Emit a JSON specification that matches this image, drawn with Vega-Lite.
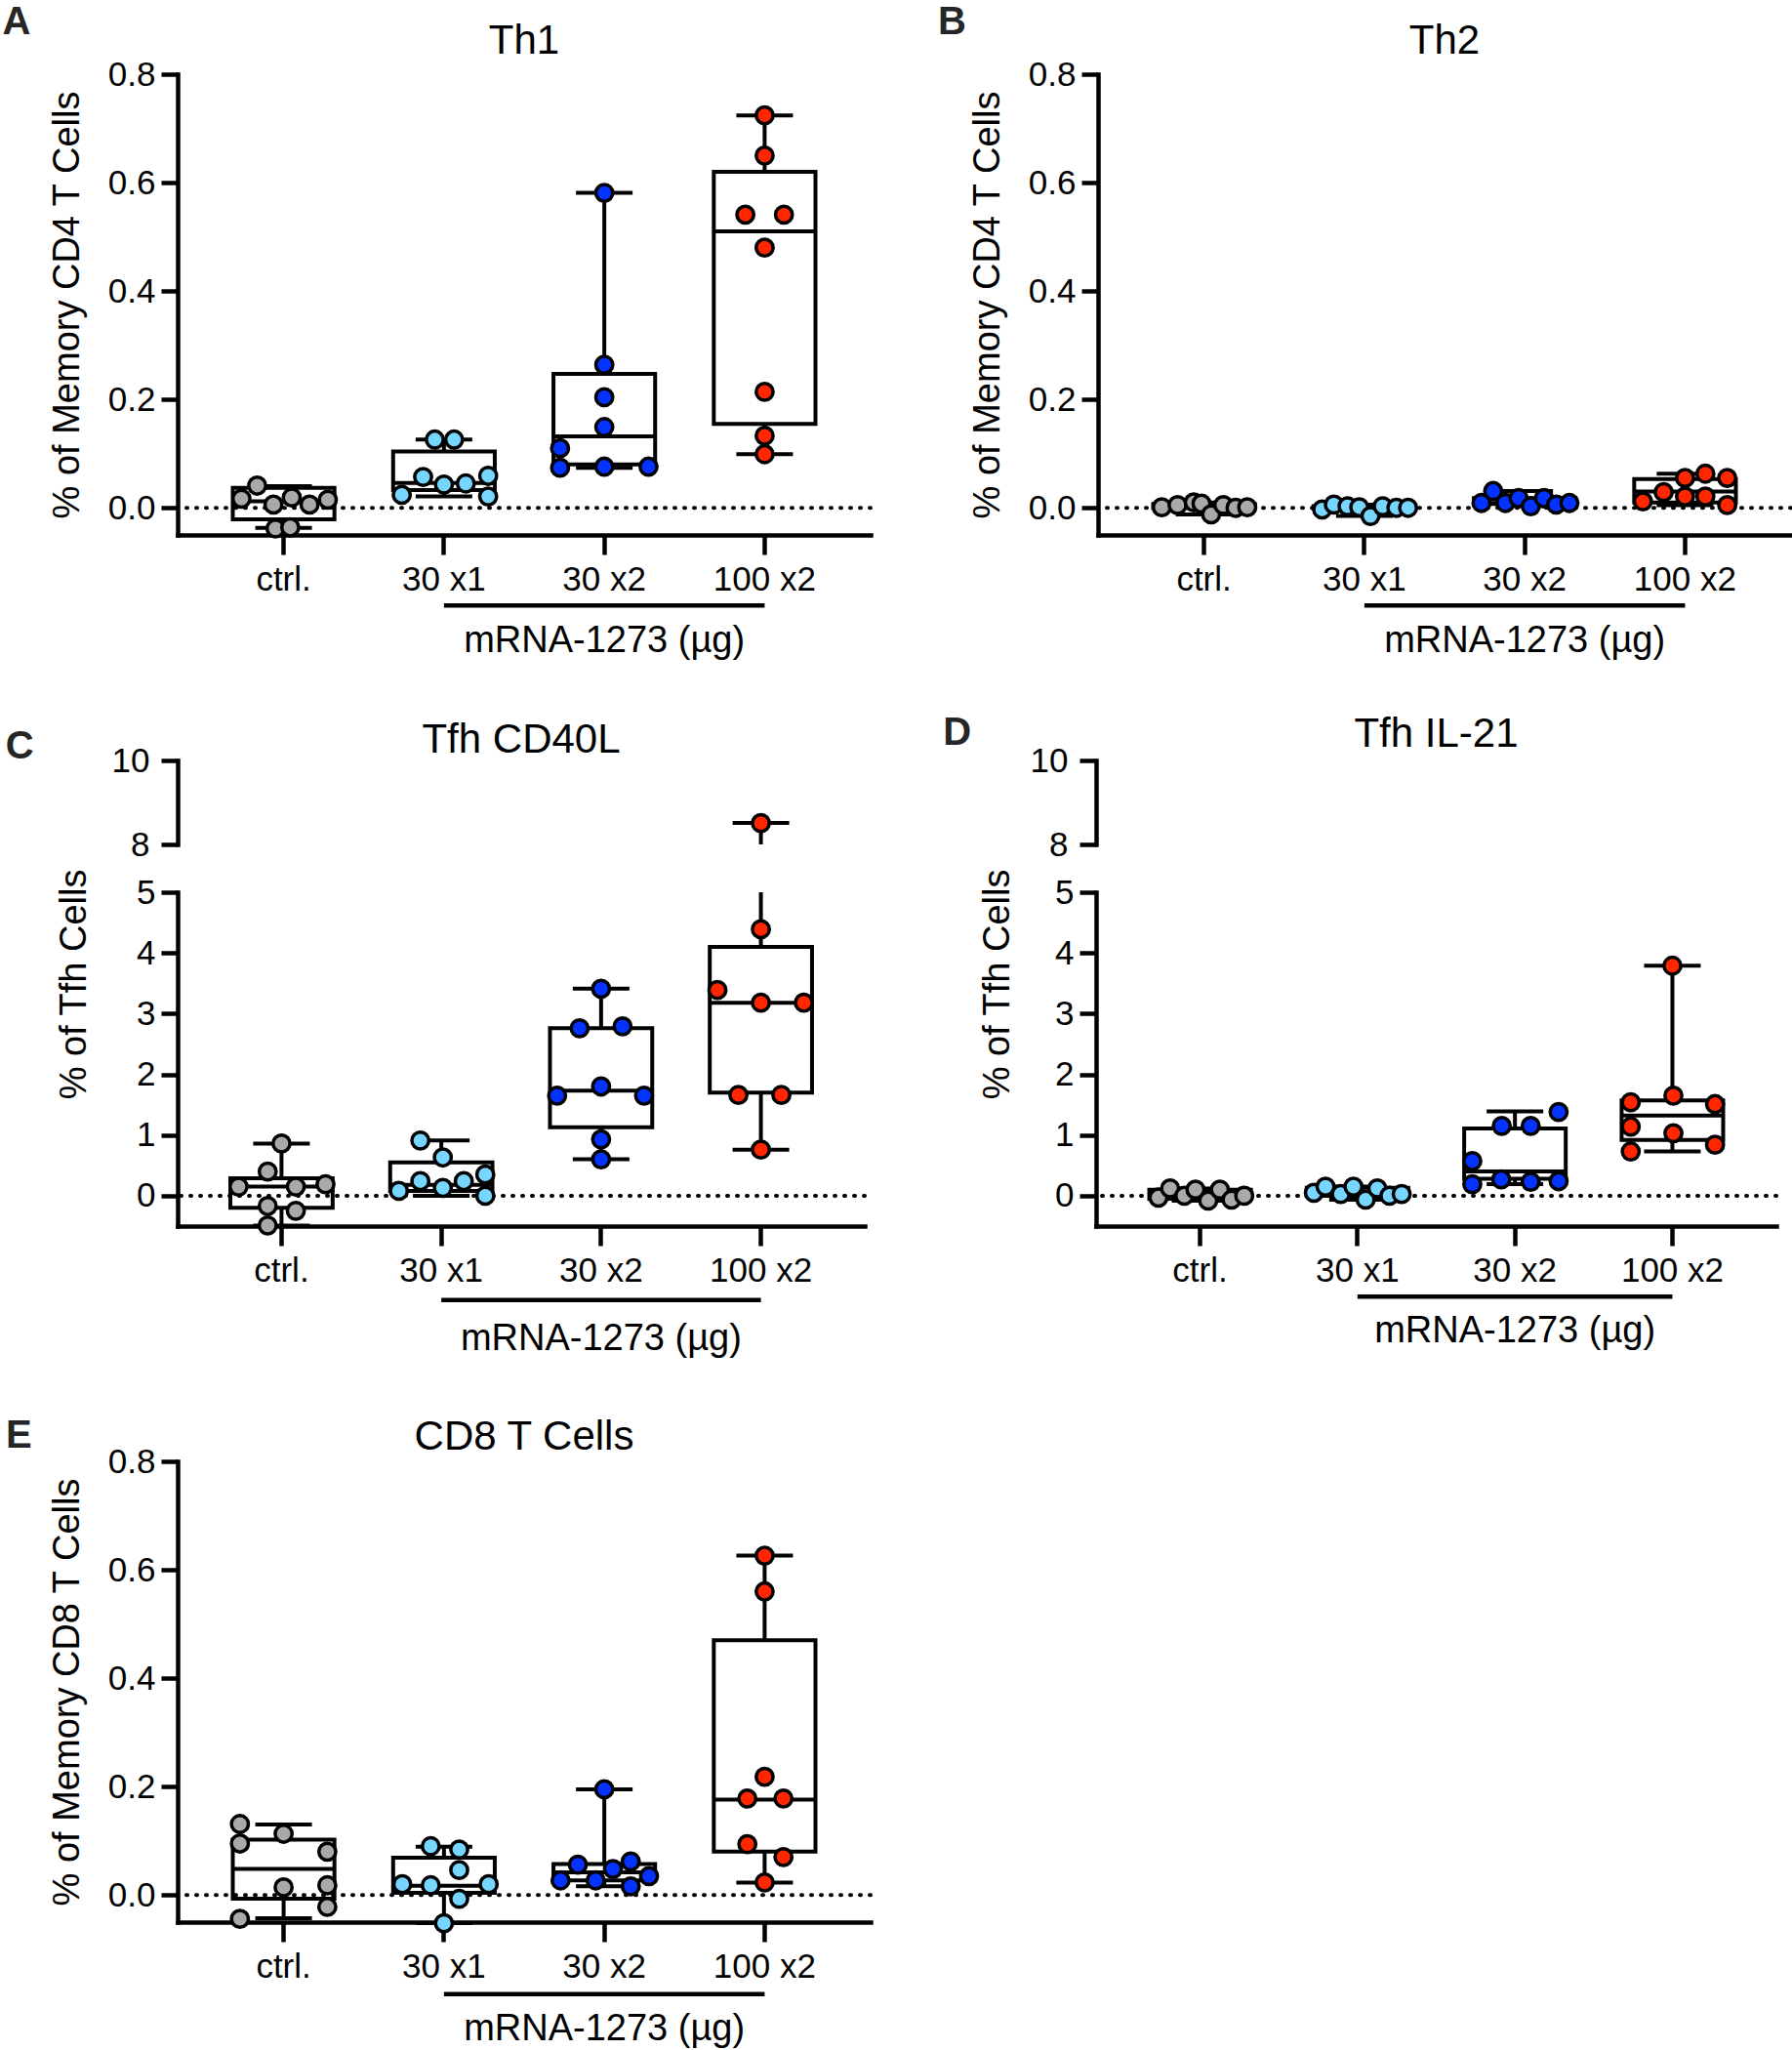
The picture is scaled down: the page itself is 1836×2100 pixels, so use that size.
{
"$schema": "https://vega.github.io/schema/vega-lite/v6.json",
"padding": {"left": 2, "top": 3, "right": 0, "bottom": 0},
"config": {
 "view": {"stroke": null},
 "font": "Liberation Sans",
 "axis": {"domainColor": "black", "domainWidth": 4.5, "domainCap": "square", "tickColor": "black", "tickWidth": 4.5, "tickSize": 17, "labelColor": "black", "labelFontSize": 35, "labelFont": "Liberation Sans", "titleFont": "Liberation Sans", "titleFontSize": 38, "titleFontWeight": "normal", "titleColor": "black", "grid": false, "labelPadding": 6, "labelFlush": false, "labelOverlap": false},
 "axisX": {"labelAngle": 0, "labelPadding": 8, "tickSize": 20},
 "title": {"font": "Liberation Sans", "fontSize": 42, "fontWeight": "normal", "color": "black"},
 "text": {"font": "Liberation Sans"},
 "tick": {"opacity": 1, "color": "black", "thickness": 4},
 "rule": {"color": "black", "strokeWidth": 4},
 "circle": {"opacity": 1, "size": 300, "stroke": "black", "strokeWidth": 3.5}
},
"datasets": {
 "stats": [
  {"panel":"A","group":"ctrl.","min":-0.037,"q1":-0.021,"median":0.012,"q3":0.037,"max":0.04},
  {"panel":"A","group":"30 x1","min":0.021,"q1":0.033,"median":0.046,"q3":0.104,"max":0.126},
  {"panel":"A","group":"30 x2","min":0.074,"q1":0.08,"median":0.132,"q3":0.247,"max":0.581},
  {"panel":"A","group":"100 x2","min":0.099,"q1":0.155,"median":0.51,"q3":0.62,"max":0.724},
  {"panel":"B","group":"ctrl.","min":-0.012,"q1":0.0,"median":0.003,"q3":0.007,"max":0.01},
  {"panel":"B","group":"30 x1","min":-0.015,"q1":-0.001,"median":0.001,"q3":0.003,"max":0.006},
  {"panel":"B","group":"30 x2","min":0.003,"q1":0.007,"median":0.009,"q3":0.018,"max":0.031},
  {"panel":"B","group":"100 x2","min":0.005,"q1":0.01,"median":0.03,"q3":0.053,"max":0.063},
  {"panel":"C","group":"ctrl.","min":-0.49,"q1":-0.2,"median":0.15,"q3":0.29,"max":0.86},
  {"panel":"C","group":"30 x1","min":0.0,"q1":0.08,"median":0.18,"q3":0.55,"max":0.91},
  {"panel":"C","group":"30 x2","min":0.6,"q1":1.13,"median":1.73,"q3":2.76,"max":3.41},
  {"panel":"C","group":"100 x2","min":0.76,"q1":1.7,"median":3.18,"q3":4.1,"max":8.51},
  {"panel":"D","group":"ctrl.","min":-0.08,"q1":-0.05,"median":0.0,"q3":0.1,"max":0.12},
  {"panel":"D","group":"30 x1","min":-0.065,"q1":0.0,"median":0.04,"q3":0.13,"max":0.15},
  {"panel":"D","group":"30 x2","min":0.19,"q1":0.28,"median":0.4,"q3":1.11,"max":1.39},
  {"panel":"D","group":"100 x2","min":0.73,"q1":0.92,"median":1.32,"q3":1.57,"max":3.79},
  {"panel":"E","group":"ctrl.","min":-0.043,"q1":-0.007,"median":0.048,"q3":0.102,"max":0.13},
  {"panel":"E","group":"30 x1","min":-0.052,"q1":0.004,"median":0.017,"q3":0.069,"max":0.089},
  {"panel":"E","group":"30 x2","min":0.016,"q1":0.027,"median":0.042,"q3":0.057,"max":0.195},
  {"panel":"E","group":"100 x2","min":0.023,"q1":0.08,"median":0.176,"q3":0.47,"max":0.626}
 ],
 "points": [
  {"panel":"A","group":"ctrl.","jitter":-0.52,"value":0.041},{"panel":"A","group":"ctrl.","jitter":-0.83,"value":0.017},{"panel":"A","group":"ctrl.","jitter":-0.2,"value":0.006},{"panel":"A","group":"ctrl.","jitter":0.16,"value":0.019},{"panel":"A","group":"ctrl.","jitter":0.51,"value":0.006},{"panel":"A","group":"ctrl.","jitter":0.87,"value":0.015},{"panel":"A","group":"ctrl.","jitter":-0.16,"value":-0.038},{"panel":"A","group":"ctrl.","jitter":0.13,"value":-0.036},
  {"panel":"A","group":"30 x1","jitter":-0.18,"value":0.126},{"panel":"A","group":"30 x1","jitter":0.2,"value":0.126},{"panel":"A","group":"30 x1","jitter":-0.41,"value":0.057},{"panel":"A","group":"30 x1","jitter":0,"value":0.043},{"panel":"A","group":"30 x1","jitter":0.43,"value":0.045},{"panel":"A","group":"30 x1","jitter":0.87,"value":0.059},{"panel":"A","group":"30 x1","jitter":-0.83,"value":0.024},{"panel":"A","group":"30 x1","jitter":0.87,"value":0.021},
  {"panel":"A","group":"30 x2","jitter":0,"value":0.581},{"panel":"A","group":"30 x2","jitter":0,"value":0.264},{"panel":"A","group":"30 x2","jitter":0,"value":0.204},{"panel":"A","group":"30 x2","jitter":0,"value":0.149},{"panel":"A","group":"30 x2","jitter":-0.87,"value":0.11},{"panel":"A","group":"30 x2","jitter":-0.87,"value":0.074},{"panel":"A","group":"30 x2","jitter":0,"value":0.076},{"panel":"A","group":"30 x2","jitter":0.87,"value":0.076},
  {"panel":"A","group":"100 x2","jitter":0,"value":0.724},{"panel":"A","group":"100 x2","jitter":0,"value":0.65},{"panel":"A","group":"100 x2","jitter":-0.38,"value":0.541},{"panel":"A","group":"100 x2","jitter":0.38,"value":0.541},{"panel":"A","group":"100 x2","jitter":0,"value":0.48},{"panel":"A","group":"100 x2","jitter":0,"value":0.214},{"panel":"A","group":"100 x2","jitter":0,"value":0.133},{"panel":"A","group":"100 x2","jitter":0,"value":0.099},
  {"panel":"B","group":"ctrl.","jitter":-0.83,"value":0.001},{"panel":"B","group":"ctrl.","jitter":-0.52,"value":0.005},{"panel":"B","group":"ctrl.","jitter":-0.2,"value":0.01},{"panel":"B","group":"ctrl.","jitter":-0.05,"value":0.008},{"panel":"B","group":"ctrl.","jitter":0.14,"value":-0.012},{"panel":"B","group":"ctrl.","jitter":0.38,"value":0.005},{"panel":"B","group":"ctrl.","jitter":0.62,"value":0.0},{"panel":"B","group":"ctrl.","jitter":0.85,"value":0.001},
  {"panel":"B","group":"30 x1","jitter":-0.83,"value":-0.003},{"panel":"B","group":"30 x1","jitter":-0.6,"value":0.006},{"panel":"B","group":"30 x1","jitter":-0.33,"value":0.003},{"panel":"B","group":"30 x1","jitter":-0.1,"value":0.001},{"panel":"B","group":"30 x1","jitter":0.12,"value":-0.015},{"panel":"B","group":"30 x1","jitter":0.36,"value":0.003},{"panel":"B","group":"30 x1","jitter":0.63,"value":0.0},{"panel":"B","group":"30 x1","jitter":0.86,"value":0.0},
  {"panel":"B","group":"30 x2","jitter":-0.85,"value":0.009},{"panel":"B","group":"30 x2","jitter":-0.62,"value":0.031},{"panel":"B","group":"30 x2","jitter":-0.38,"value":0.009},{"panel":"B","group":"30 x2","jitter":-0.12,"value":0.018},{"panel":"B","group":"30 x2","jitter":0.12,"value":0.003},{"panel":"B","group":"30 x2","jitter":0.38,"value":0.018},{"panel":"B","group":"30 x2","jitter":0.62,"value":0.006},{"panel":"B","group":"30 x2","jitter":0.88,"value":0.009},
  {"panel":"B","group":"100 x2","jitter":-0.83,"value":0.012},{"panel":"B","group":"100 x2","jitter":-0.42,"value":0.029},{"panel":"B","group":"100 x2","jitter":0,"value":0.055},{"panel":"B","group":"100 x2","jitter":0,"value":0.021},{"panel":"B","group":"100 x2","jitter":0.4,"value":0.063},{"panel":"B","group":"100 x2","jitter":0.4,"value":0.021},{"panel":"B","group":"100 x2","jitter":0.83,"value":0.055},{"panel":"B","group":"100 x2","jitter":0.83,"value":0.005},
  {"panel":"C","group":"ctrl.","jitter":0,"value":0.86},{"panel":"C","group":"ctrl.","jitter":-0.27,"value":0.4},{"panel":"C","group":"ctrl.","jitter":-0.84,"value":0.15},{"panel":"C","group":"ctrl.","jitter":0.28,"value":0.15},{"panel":"C","group":"ctrl.","jitter":0.86,"value":0.19},{"panel":"C","group":"ctrl.","jitter":-0.27,"value":-0.17},{"panel":"C","group":"ctrl.","jitter":0.28,"value":-0.25},{"panel":"C","group":"ctrl.","jitter":-0.27,"value":-0.49},
  {"panel":"C","group":"30 x1","jitter":-0.41,"value":0.91},{"panel":"C","group":"30 x1","jitter":0.03,"value":0.63},{"panel":"C","group":"30 x1","jitter":-0.41,"value":0.24},{"panel":"C","group":"30 x1","jitter":0.03,"value":0.13},{"panel":"C","group":"30 x1","jitter":0.44,"value":0.24},{"panel":"C","group":"30 x1","jitter":0.86,"value":0.35},{"panel":"C","group":"30 x1","jitter":-0.83,"value":0.08},{"panel":"C","group":"30 x1","jitter":0.86,"value":0.0},
  {"panel":"C","group":"30 x2","jitter":0,"value":3.41},{"panel":"C","group":"30 x2","jitter":-0.42,"value":2.76},{"panel":"C","group":"30 x2","jitter":0.42,"value":2.79},{"panel":"C","group":"30 x2","jitter":-0.86,"value":1.65},{"panel":"C","group":"30 x2","jitter":0,"value":1.8},{"panel":"C","group":"30 x2","jitter":0.84,"value":1.65},{"panel":"C","group":"30 x2","jitter":0,"value":0.93},{"panel":"C","group":"30 x2","jitter":0,"value":0.6},
  {"panel":"C","group":"100 x2","jitter":0,"value":8.51},{"panel":"C","group":"100 x2","jitter":0,"value":4.39},{"panel":"C","group":"100 x2","jitter":-0.85,"value":3.39},{"panel":"C","group":"100 x2","jitter":0,"value":3.18},{"panel":"C","group":"100 x2","jitter":0.84,"value":3.18},{"panel":"C","group":"100 x2","jitter":-0.44,"value":1.66},{"panel":"C","group":"100 x2","jitter":0.4,"value":1.66},{"panel":"C","group":"100 x2","jitter":0,"value":0.76},
  {"panel":"D","group":"ctrl.","jitter":-0.82,"value":-0.03},{"panel":"D","group":"ctrl.","jitter":-0.59,"value":0.12},{"panel":"D","group":"ctrl.","jitter":-0.31,"value":0.0},{"panel":"D","group":"ctrl.","jitter":-0.09,"value":0.1},{"panel":"D","group":"ctrl.","jitter":0.16,"value":-0.08},{"panel":"D","group":"ctrl.","jitter":0.39,"value":0.1},{"panel":"D","group":"ctrl.","jitter":0.62,"value":-0.065},{"panel":"D","group":"ctrl.","jitter":0.87,"value":0.0},
  {"panel":"D","group":"30 x1","jitter":-0.86,"value":0.05},{"panel":"D","group":"30 x1","jitter":-0.63,"value":0.15},{"panel":"D","group":"30 x1","jitter":-0.33,"value":0.03},{"panel":"D","group":"30 x1","jitter":-0.08,"value":0.15},{"panel":"D","group":"30 x1","jitter":0.16,"value":-0.065},{"panel":"D","group":"30 x1","jitter":0.39,"value":0.12},{"panel":"D","group":"30 x1","jitter":0.63,"value":0.0},{"panel":"D","group":"30 x1","jitter":0.87,"value":0.03},
  {"panel":"D","group":"30 x2","jitter":0.86,"value":1.38},{"panel":"D","group":"30 x2","jitter":-0.26,"value":1.15},{"panel":"D","group":"30 x2","jitter":0.31,"value":1.15},{"panel":"D","group":"30 x2","jitter":-0.84,"value":0.57},{"panel":"D","group":"30 x2","jitter":-0.84,"value":0.19},{"panel":"D","group":"30 x2","jitter":-0.27,"value":0.27},{"panel":"D","group":"30 x2","jitter":0.31,"value":0.23},{"panel":"D","group":"30 x2","jitter":0.86,"value":0.24},
  {"panel":"D","group":"100 x2","jitter":0,"value":3.79},{"panel":"D","group":"100 x2","jitter":-0.82,"value":1.54},{"panel":"D","group":"100 x2","jitter":0.02,"value":1.65},{"panel":"D","group":"100 x2","jitter":0.84,"value":1.51},{"panel":"D","group":"100 x2","jitter":-0.82,"value":1.14},{"panel":"D","group":"100 x2","jitter":0.02,"value":1.03},{"panel":"D","group":"100 x2","jitter":0.84,"value":0.84},{"panel":"D","group":"100 x2","jitter":-0.82,"value":0.73},
  {"panel":"E","group":"ctrl.","jitter":-0.86,"value":0.131},{"panel":"E","group":"ctrl.","jitter":-0.86,"value":0.095},{"panel":"E","group":"ctrl.","jitter":0,"value":0.113},{"panel":"E","group":"ctrl.","jitter":0.86,"value":0.08},{"panel":"E","group":"ctrl.","jitter":0,"value":0.014},{"panel":"E","group":"ctrl.","jitter":0.86,"value":0.018},{"panel":"E","group":"ctrl.","jitter":0.86,"value":-0.022},{"panel":"E","group":"ctrl.","jitter":-0.86,"value":-0.044},
  {"panel":"E","group":"30 x1","jitter":-0.26,"value":0.09},{"panel":"E","group":"30 x1","jitter":0.3,"value":0.084},{"panel":"E","group":"30 x1","jitter":0.3,"value":0.046},{"panel":"E","group":"30 x1","jitter":-0.82,"value":0.02},{"panel":"E","group":"30 x1","jitter":-0.26,"value":0.018},{"panel":"E","group":"30 x1","jitter":0.88,"value":0.02},{"panel":"E","group":"30 x1","jitter":0.3,"value":-0.007},{"panel":"E","group":"30 x1","jitter":0,"value":-0.052},
  {"panel":"E","group":"30 x2","jitter":0,"value":0.195},{"panel":"E","group":"30 x2","jitter":-0.52,"value":0.056},{"panel":"E","group":"30 x2","jitter":0.17,"value":0.048},{"panel":"E","group":"30 x2","jitter":0.52,"value":0.062},{"panel":"E","group":"30 x2","jitter":0.88,"value":0.035},{"panel":"E","group":"30 x2","jitter":-0.86,"value":0.027},{"panel":"E","group":"30 x2","jitter":-0.17,"value":0.027},{"panel":"E","group":"30 x2","jitter":0.52,"value":0.016},
  {"panel":"E","group":"100 x2","jitter":0,"value":0.626},{"panel":"E","group":"100 x2","jitter":0,"value":0.56},{"panel":"E","group":"100 x2","jitter":0,"value":0.218},{"panel":"E","group":"100 x2","jitter":-0.34,"value":0.178},{"panel":"E","group":"100 x2","jitter":0.37,"value":0.178},{"panel":"E","group":"100 x2","jitter":-0.34,"value":0.094},{"panel":"E","group":"100 x2","jitter":0.37,"value":0.07},{"panel":"E","group":"100 x2","jitter":0,"value":0.023}
 ]
},
"spacing": 60,
"resolve": {"scale": {"x": "independent", "y": "independent", "xOffset": "independent", "fill": "independent"}},
"vconcat": [
{
 "spacing": 55,
 "resolve": {"scale": {"x": "independent", "y": "independent", "xOffset": "independent", "fill": "independent"}},
 "vconcat": [
 {
  "spacing": 67,
  "resolve": {"scale": {"x": "independent", "y": "independent", "xOffset": "independent", "fill": "independent"}},
  "hconcat": [
  {
   "title": {"text": "A", "orient": "left", "anchor": "end", "angle": 0, "align": "right", "baseline": "top", "fontSize": 40, "fontWeight": "bold", "color": "#262626", "offset": -10, "dy": -18, "frame": "bounds"},
   "resolve": {"scale": {"x": "independent", "y": "independent", "xOffset": "independent", "fill": "independent"}},
   "vconcat": [
   {
    "title": {"text": "Th1", "frame": "group", "offset": -38, "baseline": "alphabetic"},
    "width": 710, "height": 472,
    "resolve": {"scale": {"xOffset": "independent"}},
    "layer": [
     {"data": {"name": "stats"}, "transform": [{"filter": "datum.panel === 'A'"}], "mark": {"type": "bar", "fill": "transparent", "stroke": "black", "strokeWidth": 4},
      "encoding": {"x": {"field": "group", "type": "nominal", "sort": null, "scale": {"domain": ["ctrl.", "30 x1", "30 x2", "100 x2"], "paddingInner": 0.366, "paddingOuter": 0.344}, "axis": {"title": null}},
       "y": {"field": "q1", "type": "quantitative", "scale": {"domain": [-0.05, 0.8], "nice": false, "zero": false}, "axis": {"title": "% of Memory CD4 T Cells", "values": [0, 0.2, 0.4, 0.6, 0.8], "format": ".1f", "titlePadding": 22}}, "y2": {"field": "q3"}}},
     {"data": {"name": "stats"}, "transform": [{"filter": "datum.panel === 'A'"}], "mark": {"type": "tick", "size": 104}, "encoding": {"x": {"field": "group", "type": "nominal"}, "y": {"field": "median", "type": "quantitative"}}},
     {"data": {"name": "stats"}, "transform": [{"filter": "datum.panel === 'A'"}], "mark": {"type": "rule"}, "encoding": {"x": {"field": "group", "type": "nominal"}, "y": {"field": "min", "type": "quantitative"}, "y2": {"field": "q1"}}},
     {"data": {"name": "stats"}, "transform": [{"filter": "datum.panel === 'A'"}], "mark": {"type": "rule"}, "encoding": {"x": {"field": "group", "type": "nominal"}, "y": {"field": "q3", "type": "quantitative"}, "y2": {"field": "max"}}},
     {"data": {"name": "stats"}, "transform": [{"filter": "datum.panel === 'A'"}], "mark": {"type": "tick", "size": 58}, "encoding": {"x": {"field": "group", "type": "nominal"}, "y": {"field": "min", "type": "quantitative"}}},
     {"data": {"name": "stats"}, "transform": [{"filter": "datum.panel === 'A'"}], "mark": {"type": "tick", "size": 58}, "encoding": {"x": {"field": "group", "type": "nominal"}, "y": {"field": "max", "type": "quantitative"}}},
     {"data": {"values": [{"zero": 0}]}, "mark": {"type": "rule", "strokeWidth": 4, "strokeDash": [1, 9], "strokeCap": "round"}, "encoding": {"y": {"field": "zero", "type": "quantitative"}}},
     {"data": {"values": [{"label": "mRNA-1273 (µg)"}]}, "mark": {"type": "rule", "strokeWidth": 4.5}, "encoding": {"x": {"datum": "30 x1"}, "x2": {"datum": "100 x2"}, "y": {"datum": -0.18}}},
     {"data": {"values": [{"label": "mRNA-1273 (µg)"}]}, "mark": {"type": "text", "fontSize": 38, "baseline": "alphabetic", "color": "black"}, "encoding": {"x": {"datum": "30 x2"}, "y": {"datum": -0.266}, "text": {"field": "label"}}},
     {"data": {"name": "points"}, "transform": [{"filter": "datum.panel === 'A'"}], "mark": {"type": "circle"},
      "encoding": {"x": {"field": "group", "type": "nominal"}, "xOffset": {"field": "jitter", "type": "quantitative", "scale": {"domain": [-1, 1]}}, "y": {"field": "value", "type": "quantitative"},
       "fill": {"field": "group", "type": "nominal", "scale": {"domain": ["ctrl.", "30 x1", "30 x2", "100 x2"], "range": ["#A9A9A9", "#76D6FF", "#0433FF", "#FF2600"]}, "legend": null}}}
    ]
   }
   ]
  },
  {
   "title": {"text": "B", "orient": "left", "anchor": "end", "angle": 0, "align": "right", "baseline": "top", "fontSize": 40, "fontWeight": "bold", "color": "#262626", "offset": -25.5, "dy": -18, "frame": "bounds"},
   "resolve": {"scale": {"x": "independent", "y": "independent", "xOffset": "independent", "fill": "independent"}},
   "vconcat": [
   {
    "title": {"text": "Th2", "frame": "group", "offset": -38, "baseline": "alphabetic"},
    "width": 710, "height": 472,
    "resolve": {"scale": {"xOffset": "independent"}},
    "layer": [
     {"data": {"name": "stats"}, "transform": [{"filter": "datum.panel === 'B'"}], "mark": {"type": "bar", "fill": "transparent", "stroke": "black", "strokeWidth": 4},
      "encoding": {"x": {"field": "group", "type": "nominal", "sort": null, "scale": {"domain": ["ctrl.", "30 x1", "30 x2", "100 x2"], "paddingInner": 0.366, "paddingOuter": 0.344}, "axis": {"title": null}},
       "y": {"field": "q1", "type": "quantitative", "scale": {"domain": [-0.05, 0.8], "nice": false, "zero": false}, "axis": {"title": "% of Memory CD4 T Cells", "values": [0, 0.2, 0.4, 0.6, 0.8], "format": ".1f", "titlePadding": 22}}, "y2": {"field": "q3"}}},
     {"data": {"name": "stats"}, "transform": [{"filter": "datum.panel === 'B'"}], "mark": {"type": "tick", "size": 104}, "encoding": {"x": {"field": "group", "type": "nominal"}, "y": {"field": "median", "type": "quantitative"}}},
     {"data": {"name": "stats"}, "transform": [{"filter": "datum.panel === 'B'"}], "mark": {"type": "rule"}, "encoding": {"x": {"field": "group", "type": "nominal"}, "y": {"field": "min", "type": "quantitative"}, "y2": {"field": "q1"}}},
     {"data": {"name": "stats"}, "transform": [{"filter": "datum.panel === 'B'"}], "mark": {"type": "rule"}, "encoding": {"x": {"field": "group", "type": "nominal"}, "y": {"field": "q3", "type": "quantitative"}, "y2": {"field": "max"}}},
     {"data": {"name": "stats"}, "transform": [{"filter": "datum.panel === 'B'"}], "mark": {"type": "tick", "size": 58}, "encoding": {"x": {"field": "group", "type": "nominal"}, "y": {"field": "min", "type": "quantitative"}}},
     {"data": {"name": "stats"}, "transform": [{"filter": "datum.panel === 'B'"}], "mark": {"type": "tick", "size": 58}, "encoding": {"x": {"field": "group", "type": "nominal"}, "y": {"field": "max", "type": "quantitative"}}},
     {"data": {"values": [{"zero": 0}]}, "mark": {"type": "rule", "strokeWidth": 4, "strokeDash": [1, 9], "strokeCap": "round"}, "encoding": {"y": {"field": "zero", "type": "quantitative"}}},
     {"data": {"values": [{"label": "mRNA-1273 (µg)"}]}, "mark": {"type": "rule", "strokeWidth": 4.5}, "encoding": {"x": {"datum": "30 x1"}, "x2": {"datum": "100 x2"}, "y": {"datum": -0.18}}},
     {"data": {"values": [{"label": "mRNA-1273 (µg)"}]}, "mark": {"type": "text", "fontSize": 38, "baseline": "alphabetic", "color": "black"}, "encoding": {"x": {"datum": "30 x2"}, "y": {"datum": -0.266}, "text": {"field": "label"}}},
     {"data": {"name": "points"}, "transform": [{"filter": "datum.panel === 'B'"}], "mark": {"type": "circle"},
      "encoding": {"x": {"field": "group", "type": "nominal"}, "xOffset": {"field": "jitter", "type": "quantitative", "scale": {"domain": [-1, 1]}}, "y": {"field": "value", "type": "quantitative"},
       "fill": {"field": "group", "type": "nominal", "scale": {"domain": ["ctrl.", "30 x1", "30 x2", "100 x2"], "range": ["#A9A9A9", "#76D6FF", "#0433FF", "#FF2600"]}, "legend": null}}}
    ]
   }
   ]
  }
  ]
 },
 {
  "spacing": 78,
  "resolve": {"scale": {"x": "independent", "y": "independent", "xOffset": "independent", "fill": "independent"}},
  "hconcat": [
  {
   "title": {"text": "C", "orient": "left", "anchor": "end", "angle": 0, "align": "right", "baseline": "top", "fontSize": 40, "fontWeight": "bold", "color": "#262626", "offset": -6, "dy": 8, "frame": "bounds"},
   "spacing": 6,
   "resolve": {"scale": {"x": "independent", "y": "independent", "xOffset": "independent", "fill": "independent"}},
   "vconcat": [
   {
    "title": {"text": "Tfh CD40L", "frame": "group", "offset": -51, "baseline": "alphabetic"},
    "width": 704, "height": 86,
    "resolve": {"scale": {"xOffset": "independent"}},
    "encoding": {"x": {"field": "group", "type": "nominal", "sort": null, "scale": {"domain": ["ctrl.", "30 x1", "30 x2", "100 x2"], "paddingInner": 0.36, "paddingOuter": 0.33}, "axis": null}},
    "layer": [
     {"data": {"name": "stats"}, "transform": [{"filter": "datum.panel === 'C'"}], "mark": {"type": "rule", "clip": true},
      "encoding": {"y": {"field": "q3", "type": "quantitative", "scale": {"domain": [8, 10], "nice": false, "zero": false}, "axis": {"title": null, "values": [8, 10], "format": "d", "labelPadding": 12}}, "y2": {"field": "max"}}},
     {"data": {"name": "stats"}, "transform": [{"filter": "datum.panel === 'C'"}], "mark": {"type": "tick", "size": 58, "clip": true}, "encoding": {"y": {"field": "max", "type": "quantitative"}}},
     {"data": {"name": "points"}, "transform": [{"filter": "datum.panel === 'C' && datum.value >= 8"}], "mark": {"type": "circle"},
      "encoding": {"xOffset": {"field": "jitter", "type": "quantitative", "scale": {"domain": [-1, 1]}}, "y": {"field": "value", "type": "quantitative"},
       "fill": {"field": "group", "type": "nominal", "scale": {"domain": ["ctrl.", "30 x1", "30 x2", "100 x2"], "range": ["#A9A9A9", "#76D6FF", "#0433FF", "#FF2600"]}, "legend": null}}}
    ]
   },
   {
    "width": 704, "height": 342,
    "resolve": {"scale": {"xOffset": "independent"}},
    "layer": [
     {"data": {"name": "stats"}, "transform": [{"filter": "datum.panel === 'C'"}], "mark": {"type": "bar", "fill": "transparent", "stroke": "black", "strokeWidth": 4, "clip": true},
      "encoding": {"x": {"field": "group", "type": "nominal", "sort": null, "scale": {"domain": ["ctrl.", "30 x1", "30 x2", "100 x2"], "paddingInner": 0.36, "paddingOuter": 0.33}, "axis": {"title": null}},
       "y": {"field": "q1", "type": "quantitative", "scale": {"domain": [-0.5, 5], "nice": false, "zero": false}, "axis": {"title": "% of Tfh Cells", "values": [0, 1, 2, 3, 4, 5], "format": "d", "titlePadding": 44, "titleAnchor": "end", "titleY": -24}}, "y2": {"field": "q3"}}},
     {"data": {"name": "stats"}, "transform": [{"filter": "datum.panel === 'C'"}], "mark": {"type": "tick", "size": 104, "clip": true}, "encoding": {"x": {"field": "group", "type": "nominal"}, "y": {"field": "median", "type": "quantitative"}}},
     {"data": {"name": "stats"}, "transform": [{"filter": "datum.panel === 'C'"}], "mark": {"type": "rule", "clip": true}, "encoding": {"x": {"field": "group", "type": "nominal"}, "y": {"field": "min", "type": "quantitative"}, "y2": {"field": "q1"}}},
     {"data": {"name": "stats"}, "transform": [{"filter": "datum.panel === 'C'"}], "mark": {"type": "rule", "clip": true}, "encoding": {"x": {"field": "group", "type": "nominal"}, "y": {"field": "q3", "type": "quantitative"}, "y2": {"field": "max"}}},
     {"data": {"name": "stats"}, "transform": [{"filter": "datum.panel === 'C'"}], "mark": {"type": "tick", "size": 58}, "encoding": {"x": {"field": "group", "type": "nominal"}, "y": {"field": "min", "type": "quantitative"}}},
     {"data": {"name": "stats"}, "transform": [{"filter": "datum.panel === 'C'"}], "mark": {"type": "tick", "size": 58, "clip": true}, "encoding": {"x": {"field": "group", "type": "nominal"}, "y": {"field": "max", "type": "quantitative"}}},
     {"data": {"values": [{"zero": 0}]}, "mark": {"type": "rule", "strokeWidth": 4, "strokeDash": [1, 9], "strokeCap": "round"}, "encoding": {"y": {"field": "zero", "type": "quantitative"}}},
     {"data": {"values": [{"label": "mRNA-1273 (µg)"}]}, "mark": {"type": "rule", "strokeWidth": 4.5}, "encoding": {"x": {"datum": "30 x1"}, "x2": {"datum": "100 x2"}, "y": {"datum": -1.72}}},
     {"data": {"values": [{"label": "mRNA-1273 (µg)"}]}, "mark": {"type": "text", "fontSize": 38, "baseline": "alphabetic", "color": "black"}, "encoding": {"x": {"datum": "30 x2"}, "y": {"datum": -2.54}, "text": {"field": "label"}}},
     {"data": {"name": "points"}, "transform": [{"filter": "datum.panel === 'C' && datum.value < 8"}], "mark": {"type": "circle"},
      "encoding": {"x": {"field": "group", "type": "nominal"}, "xOffset": {"field": "jitter", "type": "quantitative", "scale": {"domain": [-1, 1]}}, "y": {"field": "value", "type": "quantitative"},
       "fill": {"field": "group", "type": "nominal", "scale": {"domain": ["ctrl.", "30 x1", "30 x2", "100 x2"], "range": ["#A9A9A9", "#76D6FF", "#0433FF", "#FF2600"]}, "legend": null}}}
    ]
   }
   ]
  },
  {
   "title": {"text": "D", "orient": "left", "anchor": "end", "angle": 0, "align": "right", "baseline": "top", "fontSize": 40, "fontWeight": "bold", "color": "#262626", "offset": -20.5, "frame": "bounds"},
   "spacing": 6,
   "resolve": {"scale": {"x": "independent", "y": "independent", "xOffset": "independent", "fill": "independent"}},
   "vconcat": [
   {
    "title": {"text": "Tfh IL-21", "frame": "group", "offset": -45, "baseline": "alphabetic"},
    "width": 697, "height": 86,
    "encoding": {"x": {"field": "group", "type": "nominal", "sort": null, "scale": {"domain": ["ctrl.", "30 x1", "30 x2", "100 x2"], "paddingInner": 0.355, "paddingOuter": 0.338}, "axis": null}},
    "layer": [
     {"data": {"name": "stats"}, "transform": [{"filter": "datum.panel === 'D'"}], "mark": {"type": "rule", "clip": true},
      "encoding": {"y": {"field": "q3", "type": "quantitative", "scale": {"domain": [8, 10], "nice": false, "zero": false}, "axis": {"title": null, "values": [8, 10], "format": "d", "labelPadding": 12}}, "y2": {"field": "max"}}},
     {"data": {"name": "stats"}, "transform": [{"filter": "datum.panel === 'D'"}], "mark": {"type": "tick", "size": 58, "clip": true}, "encoding": {"y": {"field": "max", "type": "quantitative"}}}
    ]
   },
   {
    "width": 697, "height": 342,
    "resolve": {"scale": {"xOffset": "independent"}},
    "layer": [
     {"data": {"name": "stats"}, "transform": [{"filter": "datum.panel === 'D'"}], "mark": {"type": "bar", "fill": "transparent", "stroke": "black", "strokeWidth": 4, "clip": true},
      "encoding": {"x": {"field": "group", "type": "nominal", "sort": null, "scale": {"domain": ["ctrl.", "30 x1", "30 x2", "100 x2"], "paddingInner": 0.355, "paddingOuter": 0.338}, "axis": {"title": null}},
       "y": {"field": "q1", "type": "quantitative", "scale": {"domain": [-0.5, 5], "nice": false, "zero": false}, "axis": {"title": "% of Tfh Cells", "values": [0, 1, 2, 3, 4, 5], "format": "d", "titlePadding": 39, "titleAnchor": "end", "titleY": -24}}, "y2": {"field": "q3"}}},
     {"data": {"name": "stats"}, "transform": [{"filter": "datum.panel === 'D'"}], "mark": {"type": "tick", "size": 104, "clip": true}, "encoding": {"x": {"field": "group", "type": "nominal"}, "y": {"field": "median", "type": "quantitative"}}},
     {"data": {"name": "stats"}, "transform": [{"filter": "datum.panel === 'D'"}], "mark": {"type": "rule", "clip": true}, "encoding": {"x": {"field": "group", "type": "nominal"}, "y": {"field": "min", "type": "quantitative"}, "y2": {"field": "q1"}}},
     {"data": {"name": "stats"}, "transform": [{"filter": "datum.panel === 'D'"}], "mark": {"type": "rule", "clip": true}, "encoding": {"x": {"field": "group", "type": "nominal"}, "y": {"field": "q3", "type": "quantitative"}, "y2": {"field": "max"}}},
     {"data": {"name": "stats"}, "transform": [{"filter": "datum.panel === 'D'"}], "mark": {"type": "tick", "size": 58}, "encoding": {"x": {"field": "group", "type": "nominal"}, "y": {"field": "min", "type": "quantitative"}}},
     {"data": {"name": "stats"}, "transform": [{"filter": "datum.panel === 'D'"}], "mark": {"type": "tick", "size": 58, "clip": true}, "encoding": {"x": {"field": "group", "type": "nominal"}, "y": {"field": "max", "type": "quantitative"}}},
     {"data": {"values": [{"zero": 0}]}, "mark": {"type": "rule", "strokeWidth": 4, "strokeDash": [1, 9], "strokeCap": "round"}, "encoding": {"y": {"field": "zero", "type": "quantitative"}}},
     {"data": {"values": [{"label": "mRNA-1273 (µg)"}]}, "mark": {"type": "rule", "strokeWidth": 4.5}, "encoding": {"x": {"datum": "30 x1"}, "x2": {"datum": "100 x2"}, "y": {"datum": -1.66}}},
     {"data": {"values": [{"label": "mRNA-1273 (µg)"}]}, "mark": {"type": "text", "fontSize": 38, "baseline": "alphabetic", "color": "black"}, "encoding": {"x": {"datum": "30 x2"}, "y": {"datum": -2.41}, "text": {"field": "label"}}},
     {"data": {"name": "points"}, "transform": [{"filter": "datum.panel === 'D'"}], "mark": {"type": "circle"},
      "encoding": {"x": {"field": "group", "type": "nominal"}, "xOffset": {"field": "jitter", "type": "quantitative", "scale": {"domain": [-1, 1]}}, "y": {"field": "value", "type": "quantitative"},
       "fill": {"field": "group", "type": "nominal", "scale": {"domain": ["ctrl.", "30 x1", "30 x2", "100 x2"], "range": ["#A9A9A9", "#76D6FF", "#0433FF", "#FF2600"]}, "legend": null}}}
    ]
   }
   ]
  }
  ]
 }
 ]
},
{
 "title": {"text": "E", "orient": "left", "anchor": "end", "angle": 0, "align": "right", "baseline": "top", "fontSize": 40, "fontWeight": "bold", "color": "#262626", "offset": -9, "frame": "bounds"},
 "resolve": {"scale": {"x": "independent", "y": "independent", "xOffset": "independent", "fill": "independent"}},
 "vconcat": [
 {
  "title": {"text": "CD8 T Cells", "frame": "group", "offset": -47, "baseline": "alphabetic"},
  "width": 710, "height": 472,
  "resolve": {"scale": {"xOffset": "independent"}},
  "layer": [
   {"data": {"name": "stats"}, "transform": [{"filter": "datum.panel === 'E'"}], "mark": {"type": "bar", "fill": "transparent", "stroke": "black", "strokeWidth": 4},
    "encoding": {"x": {"field": "group", "type": "nominal", "sort": null, "scale": {"domain": ["ctrl.", "30 x1", "30 x2", "100 x2"], "paddingInner": 0.366, "paddingOuter": 0.344}, "axis": {"title": null}},
     "y": {"field": "q1", "type": "quantitative", "scale": {"domain": [-0.05, 0.8], "nice": false, "zero": false}, "axis": {"title": "% of Memory CD8 T Cells", "values": [0, 0.2, 0.4, 0.6, 0.8], "format": ".1f", "titlePadding": 22}}, "y2": {"field": "q3"}}},
   {"data": {"name": "stats"}, "transform": [{"filter": "datum.panel === 'E'"}], "mark": {"type": "tick", "size": 104}, "encoding": {"x": {"field": "group", "type": "nominal"}, "y": {"field": "median", "type": "quantitative"}}},
   {"data": {"name": "stats"}, "transform": [{"filter": "datum.panel === 'E'"}], "mark": {"type": "rule"}, "encoding": {"x": {"field": "group", "type": "nominal"}, "y": {"field": "min", "type": "quantitative"}, "y2": {"field": "q1"}}},
   {"data": {"name": "stats"}, "transform": [{"filter": "datum.panel === 'E'"}], "mark": {"type": "rule"}, "encoding": {"x": {"field": "group", "type": "nominal"}, "y": {"field": "q3", "type": "quantitative"}, "y2": {"field": "max"}}},
   {"data": {"name": "stats"}, "transform": [{"filter": "datum.panel === 'E'"}], "mark": {"type": "tick", "size": 58}, "encoding": {"x": {"field": "group", "type": "nominal"}, "y": {"field": "min", "type": "quantitative"}}},
   {"data": {"name": "stats"}, "transform": [{"filter": "datum.panel === 'E'"}], "mark": {"type": "tick", "size": 58}, "encoding": {"x": {"field": "group", "type": "nominal"}, "y": {"field": "max", "type": "quantitative"}}},
   {"data": {"values": [{"zero": 0}]}, "mark": {"type": "rule", "strokeWidth": 4, "strokeDash": [1, 9], "strokeCap": "round"}, "encoding": {"y": {"field": "zero", "type": "quantitative"}}},
   {"data": {"values": [{"label": "mRNA-1273 (µg)"}]}, "mark": {"type": "rule", "strokeWidth": 4.5}, "encoding": {"x": {"datum": "30 x1"}, "x2": {"datum": "100 x2"}, "y": {"datum": -0.183}}},
   {"data": {"values": [{"label": "mRNA-1273 (µg)"}]}, "mark": {"type": "text", "fontSize": 38, "baseline": "alphabetic", "color": "black"}, "encoding": {"x": {"datum": "30 x2"}, "y": {"datum": -0.268}, "text": {"field": "label"}}},
   {"data": {"name": "points"}, "transform": [{"filter": "datum.panel === 'E'"}], "mark": {"type": "circle"},
    "encoding": {"x": {"field": "group", "type": "nominal"}, "xOffset": {"field": "jitter", "type": "quantitative", "scale": {"domain": [-1, 1]}}, "y": {"field": "value", "type": "quantitative"},
     "fill": {"field": "group", "type": "nominal", "scale": {"domain": ["ctrl.", "30 x1", "30 x2", "100 x2"], "range": ["#A9A9A9", "#76D6FF", "#0433FF", "#FF2600"]}, "legend": null}}}
  ]
 }
 ]
}
]
}
